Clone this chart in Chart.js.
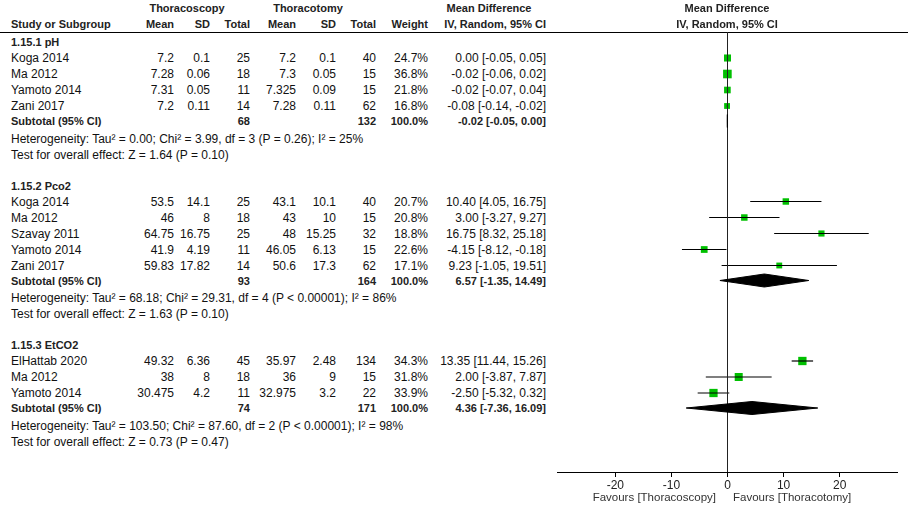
<!DOCTYPE html>
<html>
<head>
<meta charset="utf-8">
<script src="https://cdn.jsdelivr.net/npm/chart.js@4.4.1/dist/chart.umd.min.js"></script>
<style>
  html, body { margin:0; padding:0; background:#fff; }
  #page { position:relative; width:908px; height:512px; overflow:hidden;
          font-family:"Liberation Sans", Arial, sans-serif; font-size:12px; color:#111; }
  .t { position:absolute; height:16px; line-height:16px; white-space:nowrap; }
  .b { font-weight:bold; font-size:11px; color:#222; }
  .r { transform:translateX(-100%); }
  .c { transform:translateX(-50%); }
  #hline { position:absolute; left:0; top:32px; width:908px; height:1px; background:#000; }
  #plot { position:absolute; left:557px; top:0; }
  .fav { color:#333; font-size:11.5px; }
</style>
</head>
<body>
<div id="page">
  <div id="hline"></div>
  <canvas id="plot" width="341" height="512" style="width:341px;height:512px"></canvas>
</div>
<script>
// ---- data ----
const groupNames = ['1.15.1 pH', '1.15.2 Pco2', '1.15.3 EtCO2'];

const studyGroup = [0,0,0,0, 1,1,1,1,1, 2,2,2];
const studyNames = ['Koga 2014','Ma 2012','Yamoto 2014','Zani 2017',
                    'Koga 2014','Ma 2012','Szavay 2011','Yamoto 2014','Zani 2017',
                    'ElHattab 2020','Ma 2012','Yamoto 2014'];
const expMean = [7.2, 7.28, 7.31, 7.2,   53.5, 46, 64.75, 41.9, 59.83,   49.32, 38, 30.475];
const expSD   = [0.1, 0.06, 0.05, 0.11,  14.1, 8, 16.75, 4.19, 17.82,    6.36, 8, 4.2];
const expN    = [25, 18, 11, 14,         25, 18, 25, 11, 14,             45, 18, 11];
const ctlMean = [7.2, 7.3, 7.325, 7.28,  43.1, 43, 48, 46.05, 50.6,      35.97, 36, 32.975];
const ctlSD   = [0.1, 0.05, 0.09, 0.11,  10.1, 10, 15.25, 6.13, 17.3,    2.48, 9, 3.2];
const ctlN    = [40, 15, 15, 62,         40, 15, 32, 15, 62,             134, 15, 22];
const weights = [24.7, 36.8, 21.8, 16.8, 20.7, 20.8, 18.8, 22.6, 17.1,   34.3, 31.8, 33.9];
const md      = [0.00, -0.02, -0.02, -0.08,  10.40, 3.00, 16.75, -4.15, 9.23,   13.35, 2.00, -2.50];
const ciLo    = [-0.05, -0.06, -0.07, -0.14, 4.05, -3.27, 8.32, -8.12, -1.05,  11.44, -3.87, -5.32];
const ciHi    = [0.05, 0.02, 0.04, -0.02,    16.75, 9.27, 25.18, -0.18, 19.51, 15.26, 7.87, 0.32];

const subExpN = [68, 93, 74];
const subCtlN = [132, 164, 171];
const subMd   = [-0.02, 6.57, 4.36];
const subLo   = [-0.05, -1.35, -7.36];
const subHi   = [0.00, 14.49, 16.09];

const hetText = [
  'Heterogeneity: Tau² = 0.00; Chi² = 3.99, df = 3 (P = 0.26); I² = 25%',
  'Heterogeneity: Tau² = 68.18; Chi² = 29.31, df = 4 (P < 0.00001); I² = 86%',
  'Heterogeneity: Tau² = 103.50; Chi² = 87.60, df = 2 (P < 0.00001); I² = 98%'
];
const testText = [
  'Test for overall effect: Z = 1.64 (P = 0.10)',
  'Test for overall effect: Z = 1.63 (P = 0.10)',
  'Test for overall effect: Z = 0.73 (P = 0.47)'
];

const xTicks = [-20, -10, 0, 10, 20];
const favLeft = 'Favours [Thoracoscopy]';
const favRight = 'Favours [Thoracotomy]';

// ---- layout (pixel rows, shared by table text and the plot's y scale) ----
const PLOT_BOTTOM = 472;
const HEADER_LINE = 32;
const COL = { name:11, m1:174, sd1:210, n1:250, m2:296, sd2:336, n2:376, w:428, ci:546 };

function buildRows(){
  const rows = { title:[], study:[], sub:[], het:[], test:[] };
  let y = 42;
  groupNames.forEach((g, gi) => {
    rows.title[gi] = y;
    studyGroup.forEach((sg, i) => {
      if (sg !== gi) return;
      y += 16;
      rows.study[i] = y;
    });
    y += 15;   rows.sub[gi] = y;
    y += 17.5; rows.het[gi] = y;
    y += 16;   rows.test[gi] = y;
    y += 31;
  });
  return rows;
}
const rows = buildRows();

// ---- table text ----
const page = document.getElementById('page');
function put(text, x, y, cls){
  const d = document.createElement('div');
  d.className = 't ' + (cls || '');
  d.textContent = text;
  d.style.left = x + 'px';
  d.style.top = Math.round(y - 8) + 'px';
  page.appendChild(d);
}
const f2 = v => v.toFixed(2);
const ciStr = (m, l, h) => `${f2(m)} [${f2(l)}, ${f2(h)}]`;

// headers
put('Thoracoscopy', 187, 8, 'b c');
put('Thoracotomy', 308, 8, 'b c');
put('Mean Difference', 489, 8, 'b c');
put('Study or Subgroup', COL.name, 24, 'b');
put('Mean', COL.m1, 24, 'b r');
put('SD', COL.sd1, 24, 'b r');
put('Total', COL.n1, 24, 'b r');
put('Mean', COL.m2, 24, 'b r');
put('SD', COL.sd2, 24, 'b r');
put('Total', COL.n2, 24, 'b r');
put('Weight', COL.w, 24, 'b r');
put('IV, Random, 95% CI', COL.ci, 24, 'b r');
put('Mean Difference', 727, 8, 'b c');
put('IV, Random, 95% CI', 727, 24, 'b c');

groupNames.forEach((g, gi) => {
  put(g, COL.name, rows.title[gi], 'b');
  put('Subtotal (95% CI)', COL.name, rows.sub[gi], 'b');
  put(String(subExpN[gi]), COL.n1, rows.sub[gi], 'b r');
  put(String(subCtlN[gi]), COL.n2, rows.sub[gi], 'b r');
  put('100.0%', COL.w, rows.sub[gi], 'b r');
  put(ciStr(subMd[gi], subLo[gi], subHi[gi]), COL.ci, rows.sub[gi], 'b r');
  put(hetText[gi], COL.name, rows.het[gi]);
  put(testText[gi], COL.name, rows.test[gi]);
});

studyNames.forEach((s, i) => {
  const y = rows.study[i];
  put(s, COL.name, y);
  put(String(expMean[i]), COL.m1, y, 'r');
  put(String(expSD[i]), COL.sd1, y, 'r');
  put(String(expN[i]), COL.n1, y, 'r');
  put(String(ctlMean[i]), COL.m2, y, 'r');
  put(String(ctlSD[i]), COL.sd2, y, 'r');
  put(String(ctlN[i]), COL.n2, y, 'r');
  put(weights[i].toFixed(1) + '%', COL.w, y, 'r');
  put(ciStr(md[i], ciLo[i], ciHi[i]), COL.ci, y, 'r');
});

put(favLeft, 716, 497, 'fav r');
put(favRight, 733, 497, 'fav');

// ---- forest plot ----
// 菱形（サブトータル）はスケール経由で描画
const diamondPlugin = {
  id: 'diamondPlugin',
  afterDatasetsDraw(chart){
    const {ctx, scales:{x, y}} = chart;
    ctx.save();
    ctx.fillStyle = '#000';
    ctx.strokeStyle = '#000';
    ctx.lineWidth = 1;
    subMd.forEach((m, gi) => {
      const cy = y.getPixelForValue(rows.sub[gi]);
      const h = 6.5;
      ctx.beginPath();
      ctx.moveTo(x.getPixelForValue(subLo[gi]), cy);
      ctx.lineTo(x.getPixelForValue(m), cy - h);
      ctx.lineTo(x.getPixelForValue(subHi[gi]), cy);
      ctx.lineTo(x.getPixelForValue(m), cy + h);
      ctx.closePath();
      ctx.fill();
      ctx.stroke();
    });
    ctx.restore();
  }
};

const datasets = [];
datasets.push({
  data: [{x:0, y:HEADER_LINE}, {x:0, y:PLOT_BOTTOM}],
  showLine: true, borderColor: '#222', borderWidth: 1, pointRadius: 0
});
studyNames.forEach((s, i) => {
  datasets.push({
    data: [{x:ciLo[i], y:rows.study[i]}, {x:ciHi[i], y:rows.study[i]}],
    showLine: true, borderColor: '#000', borderWidth: 1.2, pointRadius: 0
  });
});
datasets.push({
  data: md.map((m, i) => ({x:m, y:rows.study[i]})),
  showLine: false,
  pointStyle: 'rect',
  pointRadius: weights.map(w => 1.42 * Math.sqrt(w) / Math.SQRT2),
  pointBackgroundColor: '#00c000',
  pointBorderWidth: 0
});

new Chart(document.getElementById('plot').getContext('2d'), {
  type: 'scatter',
  data: { datasets },
  options: {
    responsive: false,
    animation: false,
    layout: { padding: 0, autoPadding: false },
    plugins: { legend:{ display:false }, tooltip:{ enabled:false } },
    scales: {
      x: {
        type: 'linear', position: 'bottom', min: -30.4, max: 30.4,
        afterBuildTicks(scale){ scale.ticks = xTicks.map(v => ({value:v})); },
        afterFit(scale){ scale.height = 40; scale.paddingLeft = 0; scale.paddingRight = 0; },
        ticks: { font:{ family:'"Liberation Sans", Arial, sans-serif', size:12 }, color:'#222', padding:1 },
        grid: { drawOnChartArea:false, drawTicks:true, tickLength:5, color:'#000' },
        border: { display:true, color:'#000', width:1 }
      },
      y: { type:'linear', display:false, min:0, max:PLOT_BOTTOM, reverse:true }
    }
  },
  plugins: [diamondPlugin]
});
</script>
</body>
</html>
